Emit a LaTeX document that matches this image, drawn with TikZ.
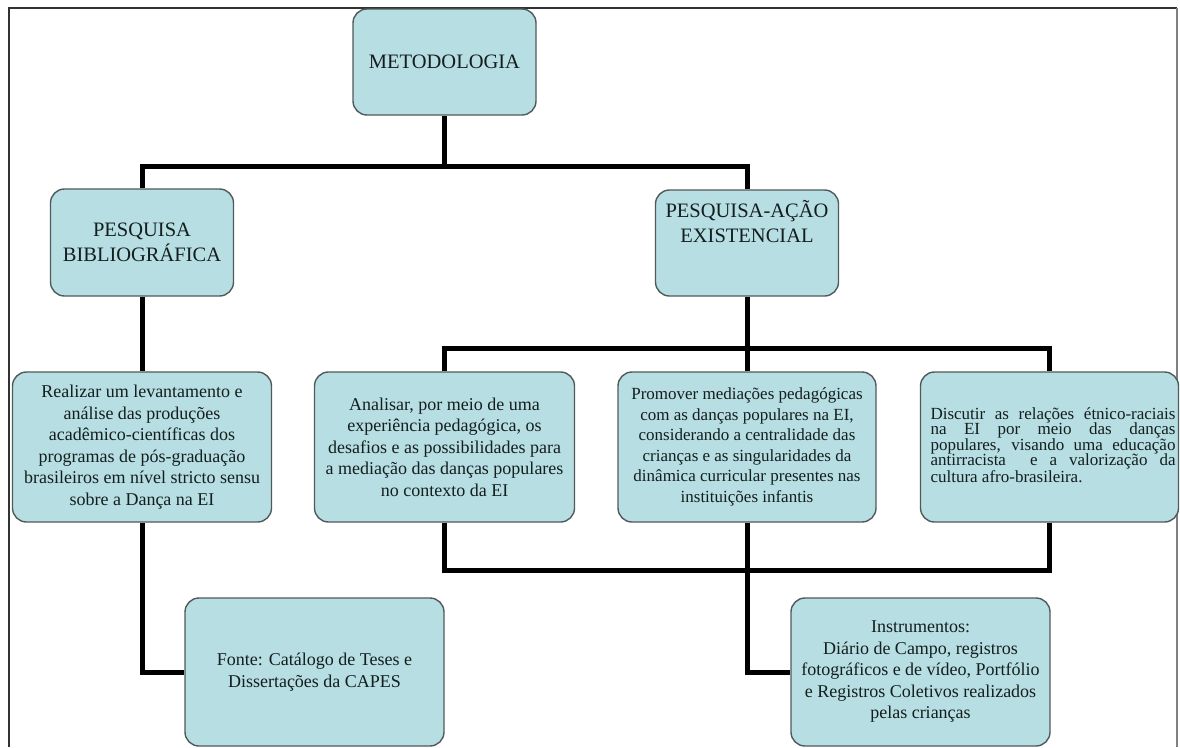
\documentclass[tikz,border=0pt]{standalone}
\usepackage{fontspec}
\setmainfont{Liberation Serif}
\usetikzlibrary{backgrounds}
\definecolor{boxfill}{RGB}{183,222,226}
\definecolor{boxline}{RGB}{80,90,90}
\definecolor{txtcol}{RGB}{20,30,30}
\definecolor{framecol}{RGB}{50,50,50}
\tikzset{
  boxst/.style={draw=boxline, line width=1.4pt, fill=boxfill, rounded corners=14pt,
    inner sep=0pt, text=txtcol, align=center},
  headfont/.style={font=\fontsize{20.5}{25}\selectfont},
  bodyfont/.style={font=\fontsize{18}{21.5}\selectfont},
  conn/.style={line width=5pt, black, line join=miter},
}
\begin{document}
\begin{tikzpicture}[x=1pt,y=-1pt]
\useasboundingbox (0,0) rectangle (1180,747);
% junctions
\coordinate (j1) at (444.5,166);
\coordinate (j2) at (747,348);
\coordinate (j3) at (747,570);
% boxes
\node[boxst, headfont, minimum width=183pt, minimum height=106pt] (met) at (444.5,62) {METODOLOGIA};
\node[boxst, headfont, minimum width=183pt, minimum height=107pt] (pb) at (142,242.5) {PESQUISA\\BIBLIOGRÁFICA};
\node[boxst, minimum width=183pt, minimum height=106pt] (pa) at (747,243) {};
\node[headfont, text=txtcol, align=center, inner sep=0pt, anchor=north] (patxt) at (747,200) {PESQUISA-AÇÃO\\EXISTENCIAL};
\node[boxst, bodyfont, minimum width=259pt, minimum height=150pt] (rea) at (142,447) {Realizar um levantamento e\\análise das produções\\acadêmico-científicas dos\\programas de pós-graduação\\brasileiros em nível stricto sensu\\sobre a Dança na EI};
\node[boxst, bodyfont, minimum width=260pt, minimum height=150pt] (ana) at (444.5,447) {Analisar, por meio de uma\\experiência pedagógica, os\\desafios e as possibilidades para\\a mediação das danças populares\\no contexto da EI};
\node[boxst, font=\fontsize{17}{20.5}\selectfont, minimum width=258pt, minimum height=150pt] (pro) at (747,447) {Promover mediações pedagógicas\\com as danças populares na EI,\\considerando a centralidade das\\crianças e as singularidades da\\dinâmica curricular presentes nas\\instituições infantis};
\node[boxst, minimum width=258pt, minimum height=150pt] (dis) at (1049.5,447) {};
\node[font=\fontsize{17}{15.5}\selectfont, text=txtcol, align=justify, text width=245pt, inner sep=0pt, anchor=north] (distxt) at (1053,407) {Discutir as relações étnico-raciais\linebreak na EI por meio das danças\linebreak populares, visando uma educação\linebreak antirracista\ \ e a valorização da\linebreak cultura afro-brasileira.};
\node[boxst, bodyfont, minimum width=259pt, minimum height=148pt] (fon) at (314.5,672) {Fonte: Catálogo de Teses e\\Dissertações da CAPES};
\node[boxst, bodyfont, minimum width=259pt, minimum height=148pt] (ins) at (920.5,672) {Instrumentos:\\Diário de Campo, registros\\fotográficos e de vídeo, Portfólio\\e Registros Coletivos realizados\\pelas crianças};
% background: page, frame and connectors behind the boxes
\begin{scope}[on background layer]
\fill[white] (0,0) rectangle (1180,747);
\draw[framecol, line width=2.5pt] (9,747) -- (9,8) -- (1177,8);
\draw[gray, line width=1.2pt] (1177,8) -- (1177,747);
\draw[conn] (met.south) -- (j1);
\draw[conn] (pb.north) |- (j1) -| (pa.north);
\draw[conn] (pa.south) -- (pro.north);
\draw[conn] (ana.north) |- (j2) -| (dis.north);
\draw[conn] (ana.south) |- (j3) -| (dis.south);
\draw[conn] (pro.south) |- (ins.west);
\draw[conn] (pb.south) -- (rea.north);
\draw[conn] (rea.south) |- (fon.west);
\end{scope}
\end{tikzpicture}
\end{document}
